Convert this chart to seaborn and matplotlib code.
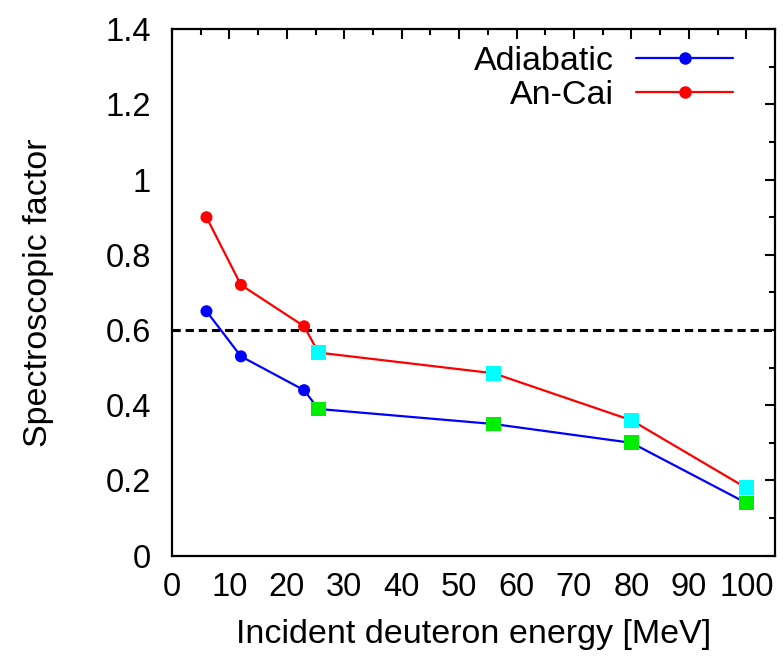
import matplotlib
matplotlib.use("Agg")
import matplotlib.pyplot as plt
import seaborn as sns
import pandas as pd
from matplotlib.lines import Line2D
from matplotlib.ticker import MultipleLocator

sns.set_theme(style="white")
plt.rcParams['font.family'] = ['Liberation Sans', 'DejaVu Sans']
plt.rcParams['text.color'] = 'black'
plt.rcParams['axes.labelcolor'] = 'black'
plt.rcParams['xtick.color'] = 'black'
plt.rcParams['ytick.color'] = 'black'

# Data
energy_low = [6, 12, 23]
energy_high = [25.5, 56, 80, 100]
adiabatic_low = [0.65, 0.53, 0.44]
adiabatic_high = [0.39, 0.35, 0.30, 0.14]
ancai_low = [0.90, 0.72, 0.61]
ancai_high = [0.54, 0.485, 0.36, 0.18]
reference_level = 0.6
series_names = ["Adiabatic", "An-Cai"]
x_ticks = list(range(0, 101, 10))
y_ticks = [0, 0.2, 0.4, 0.6, 0.8, 1.0, 1.2, 1.4]
y_ticklabels = ["0", "0.2", "0.4", "0.6", "0.8", "1", "1.2", "1.4"]

df_adi = pd.DataFrame({"E": energy_low + energy_high, "S": adiabatic_low + adiabatic_high})
df_anc = pd.DataFrame({"E": energy_low + energy_high, "S": ancai_low + ancai_high})

fig = plt.figure(figsize=(7.84, 6.66), dpi=100)
ax = fig.add_axes([0.2194, 0.1658, 0.9885 - 0.2194, 0.956 - 0.1658])

ax.axhline(reference_level, color="black", lw=2.2, ls=(0, (2.7, 1.6)), zorder=1)

sns.lineplot(data=df_adi, x="E", y="S", color="#0000ff", lw=1.6, ax=ax, sort=False, zorder=2)
sns.lineplot(data=df_anc, x="E", y="S", color="#ff0000", lw=1.6, ax=ax, sort=False, zorder=2)

sns.scatterplot(x=energy_low, y=adiabatic_low, color="#0000ff", marker="o", s=75, edgecolor="none", ax=ax, zorder=3)
sns.scatterplot(x=energy_low, y=ancai_low, color="#ff0000", marker="o", s=75, edgecolor="none", ax=ax, zorder=3)
sns.scatterplot(x=energy_high, y=adiabatic_high, color="#00ee00", marker="s", s=115, edgecolor="none", ax=ax, zorder=3)
sns.scatterplot(x=energy_high, y=ancai_high, color="#00ffff", marker="s", s=115, edgecolor="none", ax=ax, zorder=3)

ax.set_xlim(0, 105)
ax.set_ylim(0, 1.4)
ax.xaxis.set_minor_locator(MultipleLocator(5))
ax.yaxis.set_minor_locator(MultipleLocator(0.1))
ax.set_yticks(y_ticks)
ax.set_yticklabels(y_ticklabels)
ax.set_xticks(x_ticks)

ax.tick_params(which="both", direction="in", top=True, right=True, color="black", width=1.5)
ax.tick_params(which="major", length=7.5, labelsize=23.5)
ax.tick_params(axis="x", which="major", pad=12)
ax.tick_params(axis="y", which="major", pad=15)
ax.tick_params(which="minor", length=4.5)
for sp in ax.spines.values():
    sp.set_color("black")
    sp.set_linewidth(1.6)

ax.set_xlabel("Incident deuteron energy [MeV]", fontsize=24.5, labelpad=11)
ax.set_ylabel("Spectroscopic factor", fontsize=24.5, labelpad=37)

handles = [
    Line2D([], [], color="#0000ff", lw=1.6, marker="o", markersize=9, markeredgewidth=0),
    Line2D([], [], color="#ff0000", lw=1.6, marker="o", markersize=9, markeredgewidth=0),
]
ax.legend(handles, series_names, loc="upper right", frameon=False, markerfirst=False,
          fontsize=24.5, handlelength=2.85, labelspacing=0.1, handletextpad=0.66,
          borderpad=0, borderaxespad=0,
          bbox_to_anchor=(733 / 784, 1 - 46 / 666), bbox_transform=fig.transFigure)

fig.savefig("out.png", dpi=100)
